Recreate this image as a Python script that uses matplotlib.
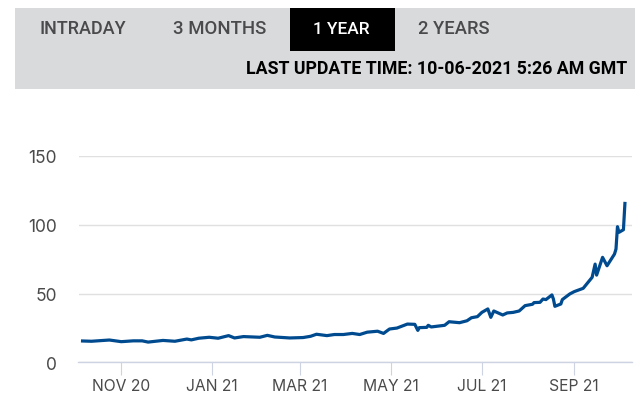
import matplotlib
matplotlib.use("Agg")
import matplotlib.pyplot as plt
import matplotlib.dates as mdates
import pandas as pd
from matplotlib.patches import Rectangle

dates = ["2020-10-06", "2020-10-12", "2020-10-24", "2020-11-01", "2020-11-09", "2020-11-15",
         "2020-11-19", "2020-11-29", "2020-12-07", "2020-12-15", "2020-12-18", "2020-12-23",
         "2020-12-30", "2021-01-05", "2021-01-12", "2021-01-16", "2021-01-22", "2021-02-02",
         "2021-02-07", "2021-02-12", "2021-02-22", "2021-03-03", "2021-03-08", "2021-03-12",
         "2021-03-19", "2021-03-24", "2021-03-30", "2021-04-05", "2021-04-10", "2021-04-15",
         "2021-04-22", "2021-04-26", "2021-04-30", "2021-05-05", "2021-05-12", "2021-05-17",
         "2021-05-19", "2021-05-20", "2021-05-25", "2021-05-26", "2021-05-28", "2021-06-06",
         "2021-06-09", "2021-06-14", "2021-06-16", "2021-06-21", "2021-06-24", "2021-06-28",
         "2021-07-01", "2021-07-05", "2021-07-07", "2021-07-09", "2021-07-15", "2021-07-18",
         "2021-07-22", "2021-07-26", "2021-07-30", "2021-08-04", "2021-08-05", "2021-08-09",
         "2021-08-11", "2021-08-13", "2021-08-17", "2021-08-18", "2021-08-19", "2021-08-23",
         "2021-08-24", "2021-08-29", "2021-09-01", "2021-09-07", "2021-09-13", "2021-09-15",
         "2021-09-16", "2021-09-20", "2021-09-23", "2021-09-28", "2021-09-29", "2021-09-30",
         "2021-10-01", "2021-10-04", "2021-10-05"]
prices = [15.5, 15.3, 16.2, 15.0, 15.6, 15.6,
          14.7, 15.9, 15.3, 16.9, 16.3, 17.5,
          18.2, 17.5, 19.4, 17.7, 18.7, 18.2,
          19.6, 18.4, 17.7, 18.0, 18.9, 20.4,
          19.4, 20.2, 20.2, 21.0, 20.2, 21.9,
          22.6, 21.0, 24.2, 24.9, 27.8, 27.6,
          23.2, 25.2, 25.4, 26.9, 25.7, 26.9,
          29.5, 29.0, 28.8, 30.2, 32.4, 33.2,
          36.3, 38.8, 32.7, 37.3, 34.4, 35.9,
          36.3, 37.3, 41.2, 42.2, 43.4, 43.6,
          46.0, 45.6, 49.0, 46.0, 40.7, 42.4,
          45.6, 49.7, 51.4, 53.8, 61.8, 71.4,
          63.4, 76.3, 70.2, 78.7, 82.3, 98.6,
          94.5, 96.4, 115.5]

y_ticks = [0, 50, 100, 150]
x_ticks = ["2020-11-01", "2021-01-01", "2021-03-01", "2021-05-01", "2021-07-01", "2021-09-01"]
x_labels = ["NOV 20", "JAN 21", "MAR 21", "MAY 21", "JUL 21", "SEP 21"]
tabs = ["INTRADAY", "3 MONTHS", "1 YEAR", "2 YEARS"]

W, H = 635, 402
fig = plt.figure(figsize=(W / 100, H / 100), dpi=100)
plt.rcParams['font.family'] = ['Inter', 'DejaVu Sans']


def fx(x):
    return x / W


def fy(y):
    return 1 - y / H


# header band and active tab
fig.add_artist(Rectangle((fx(15), fy(90)), fx(620), 81 / H, transform=fig.transFigure,
                         color="#d9dadc", lw=0))
fig.add_artist(Rectangle((fx(290), fy(52)), fx(105), 43 / H, transform=fig.transFigure,
                         color="black", lw=0))
tab_x = [82.5, 220, 341.5, 454]
tab_col = ["#4a4a4d", "#4a4a4d", "white", "#4a4a4d"]
tab_size = [13, 13.4, 12.4, 13.2]
for t, x, c, s in zip(tabs, tab_x, tab_col, tab_size):
    fig.text(fx(x), fy(29.5), t, ha="center", va="center", fontsize=s, color=c,
             family="Roboto", weight="medium")
fig.text(fx(627), fy(69.5), "LAST UPDATE TIME: 10-06-2021 5:26 AM GMT", ha="right", va="center",
         fontsize=12.8, color="black", family="Roboto", weight="bold")

# 78.5..632 px wide, y=0 at 363.3 and y=150 at 157
ax = fig.add_axes([fx(78.5), fy(363.3), fx(632 - 78.5), (363.3 - 157) / H])
d = pd.to_datetime(dates)
ax.plot(d, prices, color="#004a8f", lw=2.3, solid_joinstyle="round", clip_on=False)

# pixel scale: 1 Nov 2020 at 121.3, 1.49 px per day
x0 = mdates.date2num(pd.Timestamp("2020-11-01"))
ax.set_xlim(x0 - (121.3 - 78.5) / 1.49, x0 + (632 - 121.3) / 1.49)
ax.set_ylim(0, 150)

ax.set_yticks(y_ticks)
ax.set_yticklabels([str(v) for v in y_ticks], fontsize=12.5, color="#4a4a4a")
ax.set_xticks(pd.to_datetime(x_ticks))
ax.set_xticklabels(x_labels, fontsize=11.3, color="#4a4a4a")
ax.tick_params(axis="y", length=0, pad=15.5)
ax.tick_params(axis="x", length=9.5, width=0.8, color="#cdd3e2", pad=1.5)
ax.grid(axis="y", color="#e0e0e0", lw=1)
ax.set_axisbelow(True)
for s in ["top", "right", "left"]:
    ax.spines[s].set_visible(False)
ax.spines["bottom"].set_color("#cdd3e2")
ax.spines["bottom"].set_linewidth(1)

fig.savefig("out.png", dpi=100)
